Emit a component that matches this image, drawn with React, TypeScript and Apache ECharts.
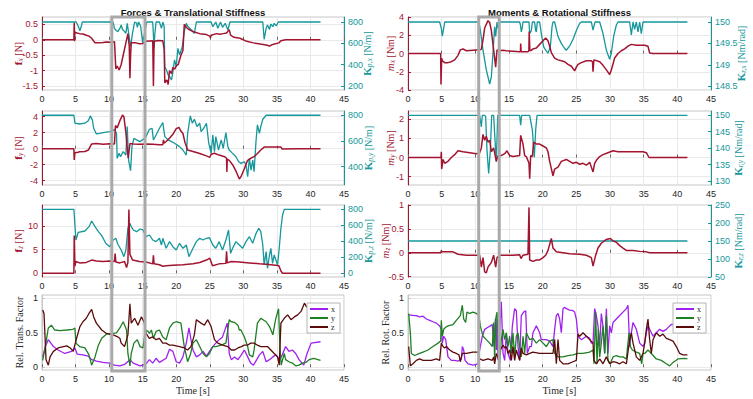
import { useEffect, useRef } from 'react';
import * as echarts from 'echarts';

// ---------------- colours / fonts ----------------
const RED = '#A2142F';
const TEAL = '#15979b';
const PURPLE = '#A020F0';
const GREEN = '#1f7f24';
const BROWN = '#5c0b0b';
const DARK = '#262626';
const SANS = '"Liberation Sans", Arial, Helvetica, sans-serif';
const SERIF = '"Liberation Serif", "Times New Roman", serif';

// ---------------- tick values ----------------
const fxTicks = [-1.5, -1, -0.5, 0, 0.5];
const kpxTicks = [200, 400, 600, 800];
const fyTicks = [-4, -2, 0, 2, 4];
const kpyTicks = [400, 600, 800];
const fzTicks = [0, 5, 10];
const kpzTicks = [0, 200, 400, 600, 800];
const relTicks = [0, 0.5, 1];
const mxTicks = [-4, -2, 0, 2, 4];
const krxTicks = [148.5, 149, 149.5, 150];
const myTicks = [-1, 0, 1, 2];
const kryTicks = [130, 135, 140, 145, 150];
const mzTicks = [-0.5, 0, 0.5, 1];
const krzTicks = [50, 100, 150, 200, 250];

// highlighted time windows [start, end] in s
const transWindow = [10.4, 15.35];
const rotWindow = [10.5, 13.55];

// ---------------- series ([time s, value]) ----------------
const fx = [[0,0],[4.75,0],[4.8,0.55],[4.85,-0.05],[4.9,0.25],[5.2,0.22],[5.6,0.2],[6.1,0.19],[6.6,0.15],[7.0,0.12],[7.4,0.05],[7.9,-0.1],[8.6,-0.1],[9.1,-0.09],[9.6,-0.07],[10.3,-0.08],[10.8,-0.06],[11.0,-0.95],[11.2,-0.85],[11.5,-0.98],[11.8,-0.8],[12.0,-0.6],[12.4,-0.2],[12.8,0.2],[13.0,-0.2],[13.1,-1.25],[13.2,-0.5],[13.3,-0.1],[14.0,-0.1],[14.5,-0.13],[15.0,-0.12],[15.5,-0.05],[16.5,-0.03],[16.6,-1.5],[16.7,-0.05],[17.3,-0.02],[18.0,-0.03],[18.2,-0.3],[18.3,-1.4],[18.6,-1.3],[18.8,-1.45],[19.0,-1.0],[19.3,-1.1],[19.5,-0.9],[19.8,-0.95],[20.0,-0.85],[20.3,-0.8],[20.7,-0.5],[21.0,-0.35],[21.2,0.5],[21.5,0.4],[21.8,0.35],[22.2,0.3],[22.7,0.25],[23.5,0.2],[24.5,0.17],[25.0,0.12],[25.1,0.06],[25.2,0.15],[26.0,0.2],[26.5,0.18],[27.0,0.2],[27.5,0.22],[27.9,0.33],[28.1,0.15],[28.6,0.08],[29.5,0.05],[30.5,-0.05],[31.5,-0.1],[32.5,-0.14],[33.4,-0.17],[33.9,-0.2],[34.4,-0.15],[35.3,-0.1],[35.6,-0.03],[36.3,0],[41.5,0]];
const kpx = [[0,800],[5.1,800],[5.4,760],[5.65,718],[5.9,770],[6.0,800],[10.6,800],[10.8,740],[11.0,725],[11.3,709],[11.6,740],[11.8,772],[12.0,730],[12.2,719],[12.5,694],[12.7,787],[12.9,700],[13.2,569],[13.5,700],[13.8,800],[14.1,790],[14.2,750],[14.4,800],[14.7,760],[15.0,606],[15.3,700],[15.6,800],[16.5,800],[16.7,553],[16.8,680],[17.0,800],[17.5,800],[17.8,740],[18.0,800],[18.2,760],[18.3,381],[18.6,340],[18.8,303],[19.0,290],[19.3,256],[19.5,330],[19.75,444],[20.0,381],[20.25,553],[20.5,491],[20.9,569],[21.2,709],[21.5,788],[21.7,760],[22.2,731],[22.7,694],[23.0,800],[25.2,800],[25.45,756],[25.9,800],[26.2,741],[26.6,800],[26.9,750],[27.3,788],[27.7,725],[28.0,800],[32.9,800],[33.1,638],[33.4,741],[33.6,772],[33.9,731],[34.1,781],[34.4,756],[34.6,788],[34.9,763],[35.2,800],[41.5,800]];

const fy = [[0,0],[4.75,0],[4.8,-1.4],[4.9,-0.5],[5.4,-0.45],[5.6,-0.37],[6.4,-0.35],[6.9,-0.17],[7.2,0.3],[7.4,0.6],[8.1,0.65],[9.1,0.55],[10.1,0.62],[10.8,0.6],[10.95,2.9],[11.2,2.6],[11.6,3.5],[12.0,4.2],[12.2,4.0],[12.5,2.0],[12.7,0],[12.85,-1.2],[13.1,0.65],[13.6,0.6],[14.5,0.55],[15.5,0.6],[16.5,0.55],[17.5,0.5],[18.0,0.5],[18.1,1.1],[18.2,0.7],[18.5,0.9],[19.0,1.3],[19.5,1.8],[20.0,2.5],[20.4,2.65],[20.7,2.2],[21.0,1.9],[21.3,0.8],[21.7,-0.17],[22.5,-0.35],[23.5,-0.6],[24.5,-0.9],[25.0,-1.08],[25.2,-0.7],[25.7,-0.58],[26.4,-0.8],[27.2,-1.0],[27.5,-1.2],[27.55,-2.9],[27.6,-1.3],[27.9,-1.46],[28.4,-2.0],[28.9,-2.8],[29.4,-3.8],[29.65,-3.5],[30.15,-2.5],[30.6,-1.5],[31.1,-1.2],[31.6,-1.0],[32.1,-0.6],[32.6,-0.17],[33.1,0.2],[34.4,0.2],[35.6,0.2],[35.8,-0.05],[38,0],[41.5,0]];
const kpy = [[0,800],[4.75,800],[4.9,738],[5.6,732],[6.4,738],[6.9,758],[7.2,795],[7.5,764],[7.7,699],[8.1,655],[8.6,660],[9.1,665],[10.1,673],[10.6,681],[10.8,691],[11.1,660],[11.2,465],[11.5,504],[11.7,478],[12.1,517],[12.5,491],[12.7,712],[12.9,452],[13.2,369],[13.4,556],[13.7,621],[14.1,608],[14.6,595],[15.1,613],[15.5,634],[16.0,691],[16.4,699],[16.6,608],[17.0,647],[17.5,699],[18.0,743],[18.3,634],[18.8,608],[19.3,595],[19.75,582],[20.5,556],[21.0,530],[21.5,491],[21.7,660],[22.1,795],[22.4,738],[22.7,769],[23.1,712],[23.5,738],[23.7,673],[24.1,699],[24.5,738],[24.85,582],[25.2,504],[25.45,647],[25.7,517],[25.9,634],[26.3,530],[26.7,608],[27.0,543],[27.4,665],[27.7,556],[27.9,530],[28.4,504],[28.9,478],[29.3,439],[29.65,426],[30.15,439],[30.4,413],[30.65,322],[30.9,465],[31.15,374],[31.4,452],[31.6,361],[31.9,608],[32.1,725],[32.4,660],[32.6,712],[32.9,769],[33.4,800],[41.5,800]];

const fz = [[0,0],[4.75,0],[4.8,8.0],[4.9,1.5],[5.05,2.5],[5.6,2.2],[6.6,2.3],[7.4,2.8],[8.1,2.6],[9.1,2.5],[10.1,2.6],[10.8,2.5],[10.9,4.2],[11.0,2.4],[11.6,2.2],[12.3,2.5],[12.6,1.2],[12.8,2.3],[12.95,13.5],[13.1,4.0],[13.5,2.8],[14.5,2.5],[15.5,2.4],[16.5,2.0],[16.6,3.8],[16.7,2.0],[17.5,1.8],[18.0,1.5],[18.5,1.6],[19.5,1.7],[21.0,1.8],[22.5,2.0],[23.5,2.3],[24.5,2.8],[25.0,3.2],[25.4,1.6],[26.4,2.0],[27.4,2.1],[27.5,4.65],[27.6,2.2],[28.2,2.5],[29.4,2.4],[30.9,2.2],[32.4,2.0],[33.4,1.9],[34.8,1.7],[35.3,1.6],[35.6,0.5],[35.85,0],[41.5,0]];
const kpz = [[0,800],[4.75,800],[5.05,417],[5.4,513],[6.4,529],[7.0,583],[7.4,654],[7.9,583],[8.4,521],[8.9,471],[9.5,375],[10.1,333],[10.6,417],[11.0,438],[11.3,363],[11.8,292],[12.2,208],[12.5,292],[12.8,563],[13.1,625],[13.3,583],[13.6,542],[14.1,521],[14.6,554],[15.05,542],[15.5,458],[16.0,479],[16.5,417],[17.0,396],[17.5,438],[17.8,354],[18.0,438],[18.5,313],[19.0,396],[19.5,333],[20.0,292],[20.5,375],[21.0,313],[21.5,354],[21.9,208],[22.5,313],[23.0,396],[23.5,438],[24.0,417],[24.5,438],[24.95,446],[25.45,354],[25.9,313],[26.4,396],[26.9,292],[27.4,417],[27.8,542],[28.1,250],[28.4,313],[28.9,396],[29.4,354],[29.9,313],[30.4,396],[30.9,458],[31.4,375],[31.9,500],[32.3,563],[32.6,521],[32.9,354],[33.1,104],[33.4,271],[33.6,63],[33.9,229],[34.1,313],[34.35,125],[34.6,229],[34.85,167],[35.1,104],[35.35,313],[35.6,563],[35.85,729],[36.1,800],[41.5,800]];

const transX = [[0.1,0.15],[0.5,0.3],[0.94,0.4],[1.7,0.3],[2.4,0.25],[3.4,0.2],[4.4,0.23],[4.9,0.28],[5.25,0.19],[6.1,0.18],[6.9,0.16],[7.4,0.11],[8.1,0.09],[9.1,0.07],[10.1,0.06],[10.8,0.03],[11.6,0.02],[12.3,0.04],[13.1,0.11],[13.6,0.06],[14.6,0.02],[15.5,0.05],[16.0,0.11],[16.5,0.06],[17.0,0.13],[17.5,0.07],[18.5,0.13],[19.0,0.26],[19.5,0.23],[20.0,0.08],[20.5,0.06],[21.0,0.15],[21.5,0.35],[21.9,0.57],[22.2,0.4],[22.5,0.25],[23.0,0.15],[23.5,0.18],[24.0,0.23],[24.5,0.16],[24.95,0.23],[25.45,0.3],[25.9,0.35],[26.4,0.4],[26.9,0.44],[27.6,0.64],[27.9,0.2],[28.2,0.11],[28.7,0.15],[29.2,0.11],[29.7,0.18],[30.15,0.25],[30.65,0.15],[31.1,0.06],[31.5,0.03],[32.0,0.11],[32.4,0.18],[32.9,0.23],[33.4,0.08],[33.9,0.11],[34.4,0.15],[34.85,0.18],[35.4,0.11],[35.8,0.18],[36.3,0.3],[36.8,0.23],[37.3,0.25],[37.8,0.2],[38.3,0.11],[39.0,0.03],[39.5,0.2],[40.1,0.35],[41.5,0.37]];
const transY = [[0.1,0.1],[0.5,0.3],[0.94,0.57],[1.4,0.61],[1.9,0.54],[2.7,0.53],[3.7,0.54],[4.6,0.55],[4.9,0.57],[5.05,0.35],[5.6,0.3],[6.4,0.28],[7.0,0.18],[7.4,0.03],[7.9,0.15],[8.4,0.32],[8.9,0.42],[9.6,0.48],[10.6,0.49],[11.1,0.5],[11.6,0.57],[12.1,0.66],[12.6,0.54],[12.8,0.2],[13.1,0.02],[13.3,0.2],[13.7,0.35],[14.2,0.4],[14.6,0.3],[15.05,0.28],[15.4,0.54],[15.8,0.52],[16.0,0.49],[16.3,0.54],[16.6,0.42],[17.0,0.52],[17.5,0.54],[18.0,0.44],[18.5,0.4],[19.0,0.57],[19.5,0.64],[20.0,0.66],[20.7,0.64],[21.2,0.3],[21.7,0.08],[22.1,0.18],[22.5,0.35],[23.0,0.4],[23.5,0.3],[24.0,0.2],[24.5,0.15],[24.95,0.2],[25.45,0.3],[25.9,0.3],[26.7,0.32],[27.4,0.35],[27.9,0.69],[28.2,0.66],[28.7,0.65],[29.2,0.61],[29.4,0.54],[29.65,0.54],[30.15,0.44],[30.65,0.3],[30.9,0.18],[31.4,0.15],[31.6,0.25],[32.1,0.64],[32.6,0.71],[33.4,0.66],[33.9,0.59],[34.4,0.47],[34.8,0.69],[35.25,0.85],[35.45,0.3],[35.64,0.03],[36.1,0.2],[36.3,0.11],[36.8,0.08],[37.3,0.06],[37.8,0.02],[38.3,0.03],[38.8,0.06],[39.3,0.07],[39.8,0.11],[40.5,0.13],[41.5,0.1]];
const transZ = [[0.1,0.83],[0.3,0.78],[0.6,0.11],[0.94,0.03],[1.2,0.15],[1.7,0.23],[2.4,0.28],[3.2,0.3],[3.7,0.31],[4.2,0.28],[4.65,0.23],[5.15,0.42],[5.65,0.59],[6.1,0.66],[6.6,0.71],[7.0,0.78],[7.4,0.84],[7.7,0.73],[8.1,0.64],[8.9,0.54],[9.6,0.49],[10.6,0.47],[11.3,0.44],[11.6,0.42],[11.8,0.35],[12.3,0.3],[12.8,0.47],[13.1,0.92],[13.3,0.64],[13.8,0.71],[14.3,0.61],[14.8,0.73],[15.2,0.66],[15.5,0.49],[16.0,0.42],[16.5,0.44],[17.0,0.4],[17.5,0.42],[18.0,0.35],[18.5,0.35],[19.0,0.32],[19.5,0.32],[20.5,0.3],[21.2,0.28],[21.7,0.25],[22.2,0.3],[22.7,0.47],[23.0,0.69],[23.7,0.64],[24.2,0.61],[24.7,0.69],[25.2,0.59],[25.7,0.4],[26.2,0.35],[26.9,0.32],[27.7,0.3],[28.2,0.25],[28.7,0.25],[29.2,0.28],[29.7,0.3],[30.15,0.32],[30.6,0.32],[31.1,0.35],[31.6,0.35],[32.1,0.32],[32.6,0.3],[33.1,0.3],[33.6,0.3],[34.1,0.25],[34.6,0.2],[35.1,0.15],[35.35,0.03],[35.6,0.64],[36.1,0.71],[36.6,0.76],[37.1,0.69],[37.6,0.73],[38.1,0.76],[38.6,0.81],[39.1,0.93],[39.4,0.88],[40.0,0.85],[41.5,0.8]];

const mx = [[0,0],[4.85,0],[4.9,-3.4],[5.0,-0.5],[5.1,-0.8],[5.45,-1.0],[5.94,-1.0],[6.44,-0.9],[6.93,-0.7],[7.43,-0.2],[7.77,0.4],[8.17,0.5],[8.66,0.3],[9.65,0.35],[10.64,0.4],[10.89,0.45],[11.14,1.5],[11.39,2.8],[11.88,3.6],[12.13,3.4],[12.38,2.5],[12.62,1.0],[12.87,-0.5],[13.02,-1.5],[13.22,0.4],[13.51,0.3],[14.11,0.35],[14.6,0.3],[15.59,0.25],[16.58,0.2],[16.7,0.2],[16.73,1.1],[16.8,0.2],[17.82,0.2],[17.95,0.3],[18.0,2.4],[18.1,0.3],[18.32,0.35],[18.56,0.5],[19.06,0.6],[19.55,1.0],[20.05,1.4],[20.45,1.7],[20.79,1.4],[21.04,0.8],[21.29,0.1],[21.78,-0.5],[22.28,-0.7],[22.77,-0.8],[23.27,-0.9],[23.76,-1.2],[24.26,-1.4],[24.75,-1.9],[25.0,-1.5],[25.25,-1.2],[25.74,-1.0],[26.49,-0.8],[27.23,-0.8],[27.4,-0.9],[27.48,-2.0],[27.6,-0.7],[28.47,-0.9],[28.96,-1.3],[29.46,-1.8],[29.95,-2.3],[30.2,-1.8],[30.69,-0.5],[31.19,0],[31.68,0.3],[32.18,0.5],[32.67,0.8],[33.17,1.0],[33.91,0.9],[34.41,0.9],[35.15,0.9],[35.64,0.8],[35.89,0.05],[36.39,0],[41.5,0]];
const krx = [[0,150],[4.7,150],[4.95,149.85],[5.1,149.67],[5.3,149.85],[5.45,150],[10.54,150],[10.74,149.81],[11.14,149.34],[11.63,148.88],[12.13,148.55],[12.38,148.72],[12.62,149.27],[12.87,149.89],[13.02,149.66],[13.22,150],[13.37,149.85],[13.51,150],[16.58,150],[16.7,149.93],[16.83,149.77],[17.0,149.9],[17.08,150],[17.97,150],[18.07,149.73],[18.32,149.8],[18.47,150],[18.8,150],[18.96,149.8],[19.06,149.77],[19.2,150],[19.55,150],[19.8,149.73],[20.15,149.42],[20.45,149.34],[20.79,149.27],[21.14,149.42],[21.39,149.89],[21.53,150],[21.78,150],[22.28,149.66],[22.77,149.5],[23.27,149.38],[23.51,149.34],[24.01,149.44],[24.5,149.59],[25.0,149.8],[25.5,149.97],[25.74,150],[27.23,150],[27.48,149.81],[27.72,149.97],[27.8,150],[28.47,150],[28.96,149.73],[29.46,149.34],[29.95,149.13],[30.2,149.27],[30.54,149.66],[30.94,149.93],[31.19,150],[32.92,150],[33.17,149.7],[33.42,150],[33.66,149.83],[33.91,150],[34.16,149.77],[34.41,150],[34.65,149.73],[34.9,150],[41.5,150]];

const my = [[0,0],[4.9,0],[4.95,0.3],[5.0,-0.6],[5.2,-0.1],[5.45,-0.3],[5.94,-0.2],[6.44,0],[6.93,0.15],[7.43,0.35],[8.17,0.3],[9.16,0.25],[10.15,0.2],[10.64,0.25],[10.89,0.5],[11.14,1.2],[11.39,0.9],[11.63,1.1],[11.88,0.8],[12.13,0.9],[12.38,0.3],[12.72,0.5],[13.12,-0.2],[13.37,0.1],[13.86,0.1],[14.36,0.2],[14.7,0.35],[15.1,0.1],[15.59,0.05],[16.58,0.1],[16.73,1.15],[17.08,0.7],[17.33,0.1],[17.57,0.05],[17.97,-0.3],[18.07,-1.1],[18.22,0.1],[18.47,0.05],[18.66,0.8],[19.06,0.7],[19.55,0.7],[20.05,0.6],[20.54,0.5],[20.79,0.3],[21.04,-0.2],[21.53,-0.95],[21.78,-0.6],[22.28,-0.5],[22.77,-0.2],[23.51,-0.1],[24.01,-0.2],[24.5,-0.3],[25.0,-0.25],[25.5,-0.35],[25.99,-0.3],[26.49,-0.4],[26.98,-0.25],[27.23,-0.5],[27.48,-0.75],[27.72,-0.3],[28.07,-0.1],[28.47,0.05],[28.96,0.15],[29.7,0.25],[30.45,0.35],[31.19,0.3],[31.93,0.3],[32.92,0.3],[33.91,0.3],[34.9,0.3],[35.4,0.25],[35.79,0],[41.5,0]];
const kry = [[0,150],[10.64,150],[10.89,146.5],[11.04,150],[11.4,150],[11.53,149.6],[11.73,139.4],[11.98,132.3],[12.23,139.4],[12.43,150],[12.72,150],[12.92,142.5],[13.12,135.9],[13.32,150],[16.58,150],[16.73,147],[16.88,150],[18.07,150],[18.47,145.5],[18.76,137.2],[18.96,145.5],[19.16,150],[41.5,150]];

const mz = [[0,0],[4.9,0],[4.95,0.05],[5.0,0.02],[6.68,0.02],[7.43,-0.03],[8.66,-0.05],[10.15,-0.05],[10.64,-0.05],[10.89,-0.3],[11.14,-0.1],[11.39,-0.4],[11.63,-0.42],[11.88,-0.3],[12.38,-0.2],[12.72,-0.05],[13.02,-0.3],[13.22,-0.1],[13.61,-0.05],[14.6,-0.05],[15.59,-0.05],[16.58,-0.04],[16.78,-0.12],[17.08,-0.05],[17.82,-0.03],[17.97,0.95],[18.07,-0.15],[18.56,-0.18],[19.06,-0.15],[19.55,-0.15],[20.05,-0.1],[20.45,-0.05],[20.79,0.05],[21.29,0.3],[21.53,0.1],[22.03,0.02],[23.02,0],[24.01,-0.02],[25.5,-0.03],[26.49,-0.05],[27.23,-0.1],[27.48,-0.28],[27.87,-0.05],[28.22,0.1],[28.71,0.2],[29.46,0.28],[30.05,0.3],[30.45,0.25],[30.94,0.22],[31.44,0.15],[31.93,0.1],[32.43,0.05],[33.42,0.05],[34.41,0.03],[35.4,0.02],[35.89,0],[41.5,0]];
const krz = [[0,150],[41.5,150]];

const rotX = [[0.15,0.76],[0.99,0.75],[1.24,0.75],[1.73,0.73],[2.23,0.74],[2.72,0.7],[3.22,0.68],[3.71,0.66],[4.21,0.64],[4.7,0.6],[4.95,0.55],[5.1,0.35],[5.3,0.45],[5.6,0.4],[5.94,0.15],[6.44,0.1],[6.93,0.1],[7.43,0.09],[7.92,0.12],[8.07,0.3],[8.27,0.25],[8.47,0.1],[8.91,0.05],[9.65,0.03],[10.4,0.05],[10.64,0.25],[11.04,0.45],[11.39,0.55],[11.88,0.58],[12.23,0.6],[12.52,0.62],[12.77,0.3],[12.97,0.7],[13.12,0.25],[13.22,0.7],[13.37,0.1],[13.86,0.95],[14.11,0.2],[14.36,0.1],[14.6,0.5],[14.85,0.2],[15.2,0.1],[15.5,0.6],[15.84,0.85],[16.09,0.82],[16.34,0.3],[16.58,0.1],[16.83,0.75],[17.18,0.8],[17.48,0.82],[17.72,0.2],[18.07,0.3],[18.32,0.3],[18.56,0.5],[19.06,0.6],[19.55,0.5],[19.8,0.4],[20.54,0.4],[21.04,0.38],[21.53,0.3],[21.78,0.55],[22.03,0.75],[22.28,0.78],[22.52,0.7],[22.77,0.5],[23.02,0.85],[23.27,0.87],[23.51,0.85],[24.01,0.83],[24.5,0.82],[24.75,0.8],[25.0,0.7],[25.25,0.45],[25.74,0.4],[26.49,0.45],[26.98,0.42],[27.23,0.35],[27.48,0.35],[27.72,0.85],[27.97,0.75],[28.22,0.6],[28.47,0.3],[28.71,0.78],[28.96,0.6],[29.21,0.2],[29.46,0.85],[29.7,0.2],[29.95,0.6],[30.2,0.5],[30.45,0.65],[30.94,0.7],[31.44,0.75],[31.93,0.8],[32.43,0.85],[32.67,0.9],[32.92,0.3],[33.17,0.5],[33.42,0.65],[33.91,0.55],[34.41,0.35],[34.9,0.3],[35.15,0.35],[35.4,0.5],[35.64,0.6],[35.89,0.55],[36.39,0.45],[36.88,0.5],[37.38,0.55],[37.87,0.52],[38.37,0.55],[38.86,0.6],[39.11,0.62],[40.0,0.62],[41.5,0.6]];
const rotY = [[0.1,0.78],[0.35,0.5],[0.5,0.2],[0.99,0.17],[1.73,0.2],[2.23,0.22],[2.97,0.25],[3.71,0.3],[4.46,0.35],[4.85,0.38],[4.95,0.68],[5.1,0.45],[5.3,0.55],[5.6,0.58],[5.94,0.6],[6.68,0.62],[7.18,0.68],[7.77,0.75],[8.07,0.9],[8.27,0.7],[8.56,0.65],[8.76,0.8],[9.16,0.78],[9.65,0.8],[10.15,0.78],[10.54,0.75],[10.74,0.6],[11.14,0.45],[11.63,0.4],[12.13,0.35],[12.52,0.3],[12.72,0.65],[12.87,0.1],[13.02,0.7],[13.22,0.8],[13.37,0.3],[13.61,0.05],[13.86,0.4],[14.11,0.55],[14.36,0.4],[14.6,0.5],[14.85,0.3],[15.1,0.45],[15.35,0.2],[15.59,0.5],[15.84,0.15],[16.09,0.45],[16.34,0.5],[16.58,0.3],[16.83,0.15],[17.08,0.45],[17.33,0.2],[17.57,0.5],[18.07,0.4],[18.56,0.42],[19.06,0.35],[19.55,0.4],[20.05,0.35],[20.54,0.3],[21.04,0.38],[21.53,0.4],[21.78,0.2],[22.28,0.15],[23.02,0.15],[23.76,0.17],[24.5,0.18],[25.25,0.2],[25.99,0.2],[26.98,0.22],[27.48,0.25],[27.62,0.05],[27.87,0.8],[28.07,0.05],[28.27,0.55],[28.47,0.15],[28.71,0.35],[28.96,0.6],[29.21,0.2],[29.46,0.75],[29.7,0.1],[30.05,0.05],[30.45,0.15],[30.94,0.17],[31.44,0.15],[31.93,0.15],[32.43,0.12],[32.82,0.5],[33.02,0.3],[33.32,0.25],[33.91,0.22],[34.41,0.2],[34.7,0.05],[34.9,0.2],[35.15,0.2],[35.64,0.25],[36.14,0.2],[36.88,0.12],[37.62,0.1],[38.37,0.05],[38.86,0.02],[39.36,0.07],[40.1,0.12],[41.09,0.13],[41.5,0.12]];
const rotZ = [[0.1,0.3],[0.35,0.02],[0.74,0.05],[1.24,0.1],[1.73,0.12],[2.23,0.1],[2.72,0.1],[3.47,0.1],[4.21,0.12],[4.7,0.1],[4.95,0.35],[5.2,0.3],[5.45,0.28],[5.7,0.3],[6.19,0.25],[6.68,0.22],[7.18,0.2],[7.57,0.18],[7.77,0.08],[8.07,0.2],[8.66,0.2],[9.65,0.22],[10.4,0.22],[10.64,0.12],[11.14,0.1],[11.88,0.12],[12.52,0.1],[12.72,0.15],[12.87,0.05],[13.12,0.2],[13.51,0.1],[13.71,0.25],[14.11,0.32],[14.36,0.28],[14.6,0.3],[14.85,0.2],[15.1,0.25],[15.35,0.1],[15.59,0.3],[15.84,0.1],[16.09,0.25],[16.58,0.1],[16.83,0.28],[17.08,0.2],[17.57,0.18],[18.07,0.2],[18.56,0.22],[19.55,0.2],[20.54,0.2],[21.53,0.2],[21.78,0.4],[22.03,0.05],[22.28,0.4],[22.52,0.1],[23.02,0.05],[23.76,0.05],[24.5,0.08],[25.0,0.1],[25.25,0.48],[25.5,0.45],[25.99,0.5],[26.49,0.45],[26.98,0.4],[27.48,0.35],[27.62,0.1],[27.97,0.05],[28.47,0.12],[28.96,0.05],[29.46,0.15],[29.95,0.05],[30.45,0.08],[30.94,0.07],[31.44,0.05],[31.93,0.08],[32.43,0.05],[32.92,0.4],[33.17,0.5],[33.42,0.35],[33.91,0.15],[34.41,0.1],[34.9,0.2],[35.15,0.35],[35.4,0.55],[35.64,0.7],[35.89,0.4],[36.14,0.2],[36.39,0.4],[36.88,0.5],[37.38,0.45],[37.87,0.48],[38.37,0.42],[38.86,0.4],[39.36,0.38],[39.85,0.3],[40.35,0.2],[40.84,0.18],[41.5,0.18]];

// ---------------- option helpers ----------------
const nameStyle = (color: string) => ({
  color,
  fontFamily: SERIF,
  fontSize: 10,
  rich: {
    b: { fontFamily: SERIF, fontSize: 11, fontWeight: 'bold', color, lineHeight: 12 },
    i: { fontFamily: SERIF, fontSize: 11, fontStyle: 'italic', color, lineHeight: 12 },
    s: { fontFamily: SERIF, fontSize: 7.5, fontStyle: 'italic', color, lineHeight: 6, verticalAlign: 'bottom' },
    n: { fontFamily: SERIF, fontSize: 10, color, lineHeight: 12 },
  },
});

const yAx = (grid: number, pos: string, min: number, max: number, ticks: number[], color: string, labelColor: string, name: string, gap: number, split: boolean) => ({
  type: 'value',
  gridIndex: grid,
  position: pos,
  min,
  max,
  axisLine: { show: true, onZero: false, lineStyle: { color, width: 1 } },
  axisTick: { show: true, inside: true, length: 3, customValues: ticks, lineStyle: { color } },
  axisLabel: { customValues: ticks, color: labelColor, fontSize: 9, fontFamily: SANS, margin: 4 },
  splitLine: { show: split, lineStyle: { color: '#e9e9e9', width: 1 } },
  name,
  nameLocation: 'middle',
  nameGap: gap,
  nameMoveOverlap: false,
  nameTextStyle: nameStyle(labelColor),
});

const xAx = (grid: number, withName: boolean) => ({
  type: 'value',
  gridIndex: grid,
  min: 0,
  max: 45,
  interval: 5,
  axisLine: { show: false },
  axisTick: { show: true, inside: true, length: 3, lineStyle: { color: '#666' } },
  axisLabel: { color: DARK, fontSize: 9, fontFamily: SANS, margin: 4 },
  splitLine: { show: true, lineStyle: { color: '#e9e9e9', width: 1 } },
  name: withName ? 'Time [s]' : '',
  nameLocation: 'middle',
  nameGap: 15,
  nameMoveOverlap: false,
  nameTextStyle: { color: DARK, fontFamily: SERIF, fontSize: 10 },
});

const line = (name: string, data: number[][], color: string, xi: number, yi: number, z = 2, width = 1.3) => ({
  type: 'line',
  name,
  data,
  xAxisIndex: xi,
  yAxisIndex: yi,
  showSymbol: false,
  symbol: 'none',
  silent: true,
  z,
  lineStyle: { color, width },
  itemStyle: { color },
});

const gridBox = (left: number, top: number, width: number, height: number) => ({
  left, top, width, height, show: true, borderColor: '#c6c6c6', borderWidth: 1, backgroundColor: 'transparent',
});

const LW = 302;
const RW = 303;

const option: any = {
  animation: false,
  backgroundColor: '#ffffff',
  grid: [
    gridBox(42, 17, LW, 73),
    gridBox(42, 111, LW, 74),
    gridBox(42, 205, LW, 72),
    gridBox(42, 295, LW, 75),
    gridBox(408, 17, RW, 73),
    gridBox(408, 111, RW, 74),
    gridBox(408, 205, RW, 72),
    gridBox(408, 295, RW, 75),
  ],
  xAxis: [xAx(0, false), xAx(1, false), xAx(2, false), xAx(3, true), xAx(4, false), xAx(5, false), xAx(6, false), xAx(7, true)],
  yAxis: [
    yAx(0, 'left', -1.63, 0.74, fxTicks, RED, RED, '{b|f}{s|x}{n| [N]}', 18, true),
    yAx(0, 'right', 162, 847, kpxTicks, TEAL, TEAL, '{b|K}{s|p,x}{n| [N/m]}', 17, false),
    yAx(1, 'left', -4.54, 4.71, fyTicks, RED, RED, '{b|f}{s|y}{n| [N]}', 18, true),
    yAx(1, 'right', 258, 833, kpyTicks, TEAL, TEAL, '{b|K}{s|p,y}{n| [N/m]}', 18, false),
    yAx(2, 'left', -0.78, 14.44, fzTicks, RED, RED, '{b|f}{s|z}{n| [N]}', 18, true),
    yAx(2, 'right', -46, 854, kpzTicks, TEAL, TEAL, '{b|K}{s|p,z}{n| [N/m]}', 18, false),
    yAx(3, 'left', -0.04, 1.048, relTicks, '#c6c6c6', DARK, '{n|Rel. Trans. Factor}', 17, true),
    yAx(4, 'left', -4, 4, mxTicks, RED, RED, '{i|m}{s|x}{n| [Nm]}', 12, true),
    yAx(4, 'right', 148.41, 150.117, krxTicks, TEAL, TEAL, '{b|K}{s|r,x}{n| [Nm/rad]}', 24, false),
    yAx(5, 'left', -1.43, 2.42, myTicks, RED, RED, '{i|m}{s|y}{n| [Nm]}', 12, true),
    yAx(5, 'right', 128.8, 151.3, kryTicks, TEAL, TEAL, '{b|K}{s|r,y}{n| [Nm/rad]}', 21, false),
    yAx(6, 'left', -0.506, 1.0, mzTicks, RED, RED, '{i|m}{s|z}{n| [Nm]}', 17, true),
    yAx(6, 'right', 50, 250, krzTicks, TEAL, TEAL, '{b|K}{s|r,z}{n| [Nm/rad]}', 21, false),
    yAx(7, 'left', -0.04, 1.048, relTicks, '#c6c6c6', DARK, '{n|Rel. Rot. Factor}', 17, true),
  ],
  legend: [
    {
      data: ['x', 'y', 'z'], left: 307, top: 303, orient: 'vertical', icon: 'rect', itemWidth: 18, itemHeight: 2, itemGap: 1,
      padding: [2, 5, 2, 3], backgroundColor: '#ffffff', borderColor: '#b4b4b4', borderWidth: 1, selectedMode: false,
      textStyle: { fontFamily: SERIF, fontSize: 8, color: DARK, padding: [0, 0, 0, -2] },
    },
    {
      data: ['x', 'y', 'z'], left: 673, top: 303, orient: 'vertical', icon: 'rect', itemWidth: 18, itemHeight: 2, itemGap: 1,
      padding: [2, 5, 2, 3], backgroundColor: '#ffffff', borderColor: '#b4b4b4', borderWidth: 1, selectedMode: false,
      textStyle: { fontFamily: SERIF, fontSize: 8, color: DARK, padding: [0, 0, 0, -2] },
    },
  ],
  series: [
    line('K_px', kpx, TEAL, 0, 1),
    line('f_x', fx, RED, 0, 0, 3, 1.5),
    line('K_py', kpy, TEAL, 1, 3),
    line('f_y', fy, RED, 1, 2, 3, 1.5),
    line('K_pz', kpz, TEAL, 2, 5),
    line('f_z', fz, RED, 2, 4, 3, 1.5),
    line('x', transX, PURPLE, 3, 6),
    line('y', transY, GREEN, 3, 6),
    line('z', transZ, BROWN, 3, 6),
    line('K_rx', krx, TEAL, 4, 8),
    line('m_x', mx, RED, 4, 7, 3, 1.5),
    line('K_ry', kry, TEAL, 5, 10),
    line('m_y', my, RED, 5, 9, 3, 1.5),
    line('K_rz', krz, TEAL, 6, 12),
    line('m_z', mz, RED, 6, 11, 3, 1.5),
    line('x', rotX, PURPLE, 7, 13),
    line('y', rotY, GREEN, 7, 13),
    line('z', rotZ, BROWN, 7, 13),
  ],
};

export default function App() {
  const ref = useRef<HTMLDivElement>(null);
  useEffect(() => {
    if (!ref.current) return;
    const chart = echarts.init(ref.current, null, { renderer: 'svg' });
    chart.setOption(option);

    const px = (xi: number, v: number) => chart.convertToPixel({ xAxisIndex: xi } as any, v) as unknown as number;
    const py = (yi: number, v: number) => chart.convertToPixel({ yAxisIndex: yi } as any, v) as unknown as number;

    const tTop = py(0, 0.74);
    const tBot = py(6, -0.04);
    const tL = px(0, transWindow[0]);
    const tR = px(0, transWindow[1]);
    const rTop = py(7, 4);
    const rBot = py(13, -0.04);
    const rL = px(4, rotWindow[0]);
    const rR = px(4, rotWindow[1]);

    chart.setOption({
      graphic: [
        {
          id: 'title-left', type: 'text', x: 42 + LW / 2, y: 7, z: 10,
          style: { text: 'Forces & Translational Stiffness', fontFamily: SANS, fontWeight: 'bold', fontSize: 9.5, fill: '#111111', align: 'center', verticalAlign: 'top' },
        },
        {
          id: 'title-right', type: 'text', x: 408 + RW / 2, y: 7, z: 10,
          style: { text: 'Moments & Rotational Stiffness', fontFamily: SANS, fontWeight: 'bold', fontSize: 9.5, fill: '#111111', align: 'center', verticalAlign: 'top' },
        },
        {
          id: 'win-trans', type: 'rect', z: 20, silent: true,
          shape: { x: tL, y: tTop, width: tR - tL, height: tBot - tTop + 1 },
          style: { fill: 'none', stroke: '#a9a9a9', lineWidth: 3 },
        },
        {
          id: 'win-rot', type: 'rect', z: 20, silent: true,
          shape: { x: rL, y: rTop, width: rR - rL, height: rBot - rTop + 1 },
          style: { fill: 'none', stroke: '#a9a9a9', lineWidth: 3 },
        },
      ],
    });
    return () => chart.dispose();
  }, []);
  return <div ref={ref} style={{ position: 'fixed', left: 0, top: 0, width: 753, height: 399, background: '#fff' }} />;
}
